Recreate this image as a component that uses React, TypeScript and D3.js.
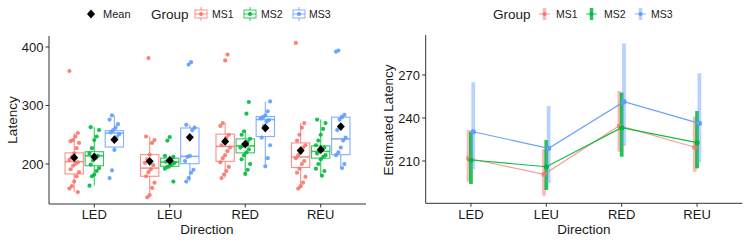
import React from "react";
import * as d3 from "d3";

const directions = ["LED", "LEU", "RED", "REU"];
const groups = ["MS1", "MS2", "MS3"];
const colors = ["#F8766D", "#00BA38", "#619CFF"];

// Left panel: raw latency points per direction (LED, LEU, RED, REU)
const ms1Points = [
  [359, 253, 247, 241, 239, 236, 227, 218, 212, 207, 203, 200, 197, 191, 186, 179, 170, 162, 158, 152],
  [381, 247, 241, 236, 216, 208, 202, 198, 191, 186, 179, 168, 159, 147, 143],
  [387, 377, 270, 265, 250, 245, 238, 232, 228, 222, 215, 210, 203, 195, 188, 182, 176],
  [407, 270, 262, 250, 240, 232, 228, 220, 215, 210, 205, 200, 192, 185, 178, 168, 162, 158],
];
const ms2Points = [
  [263, 258, 247, 241, 227, 218, 214, 210, 206, 199, 193, 188, 182, 179, 163],
  [246, 240, 214, 212, 209, 206, 204, 202, 200, 197, 195, 192, 170],
  [306, 286, 256, 250, 243, 238, 234, 231, 228, 225, 220, 215, 208, 200, 190, 183],
  [276, 270, 260, 250, 240, 232, 228, 225, 222, 218, 215, 212, 208, 200, 192, 188, 180],
];
const ms3Points = [
  [283, 276, 268, 262, 258, 254, 251, 246, 224, 189, 176],
  [374, 370, 267, 262, 258, 214, 212, 205, 190, 185, 176, 170],
  [307, 290, 283, 280, 278, 275, 272, 265, 245, 232, 210, 196],
  [394, 392, 284, 280, 276, 258, 245, 240, 228, 220, 215, 200, 193],
];

// Box stats: [lower whisker, Q1, median, Q3, upper whisker]
const ms1Box = [
  [151.5, 183, 204, 219, 253],
  [144.6, 179, 193, 216, 247],
  [176, 204.5, 230, 251, 270],
  [158, 194, 212, 236, 270],
];
const ms2Box = [
  [163.4, 197, 214, 221, 263],
  [192, 196, 203.4, 210, 214],
  [183.4, 219, 231, 243, 256],
  [180, 210, 221.5, 231, 276],
];
const ms3Box = [
  [223, 229, 253, 257, 283],
  [170, 200.5, 213, 261.5, 267],
  [196, 247, 276, 281, 307],
  [193, 216, 243, 280, 284],
];
const ms1Mean = [210.8, 204.5, 238.6, 223];
const ms2Mean = [212, 206, 234, 224.5];
const ms3Mean = [241.5, 245.5, 261.5, 264];

// Right panel: estimated latency with intervals
const ms1Est = [211.9, 200.7, 234.6, 219.6];
const ms1Low = [195.6, 185.8, 216.5, 202.5];
const ms1High = [231.6, 218.4, 258.8, 240.9];
const ms2Est = [210.7, 206, 233.2, 222.8];
const ms2Low = [194, 189.8, 213, 204.9];
const ms2High = [230.4, 224.7, 257.7, 244.9];
const ms3Est = [230.4, 218.9, 251.4, 236.3];
const ms3Low = [204.2, 194.4, 220.5, 209.1];
const ms3High = [264.9, 248.4, 292, 271.2];

const leftTicks = [200, 300, 400];
const rightTicks = [210, 240, 270];

const pointsByGroup = [ms1Points, ms2Points, ms3Points];
const boxByGroup = [ms1Box, ms2Box, ms3Box];
const meanByGroup = [ms1Mean, ms2Mean, ms3Mean];
const estByGroup = [ms1Est, ms2Est, ms3Est];
const lowByGroup = [ms1Low, ms2Low, ms3Low];
const highByGroup = [ms1High, ms2High, ms3High];

const FONT = "Liberation Sans, Arial, Helvetica, sans-serif";
const AX = "#333333";
const TXT = "#1a1a1a";

function diamond(cx: number, cy: number, r: number) {
  return `M${cx},${cy - r * 1.1}L${cx + r},${cy}L${cx},${cy + r * 1.1}L${cx - r},${cy}Z`;
}

export default function App() {
  const xL = d3.scalePoint<string>().domain(directions).range([49, 366]).padding(0.6);
  const yL = d3.scaleLinear().domain([131.6, 418.8]).range([204, 36]);
  const step = xL.step();
  const dodge = step * 0.266;
  const boxW = step * 0.243;

  const xR = d3.scalePoint<string>().domain(directions).range([425.7, 742.3]).padding(0.6);
  const yR = d3.scaleLinear().domain([180.5, 297.9]).range([203.3, 35]);
  const rDodge = 2.3;
  const rOpac = [0.5, 0.85, 0.45];

  return (
    <svg
      width={748}
      height={242}
      style={{ position: "absolute", left: 0, top: 0, background: "#fff" }}
      fontFamily={FONT}
    >
      {/* ===== Left panel ===== */}
      <g>
        <path d={diamond(91, 14, 4)} fill="#000" />
        <text x={103} y={18} fontSize={11} fill={TXT}>Mean</text>
        <text x={151} y={19} fontSize={13.5} fill={TXT}>Group</text>
        {groups.map((g, gi) => {
          const kx = [201, 250, 299][gi];
          const tx = [212, 261, 309][gi];
          const c = colors[gi];
          return (
            <g key={g}>
              <line x1={kx} x2={kx} y1={7} y2={10} stroke={c} strokeOpacity={0.8} />
              <line x1={kx} x2={kx} y1={18} y2={21} stroke={c} strokeOpacity={0.8} />
              <rect x={kx - 6} y={10} width={12} height={8} fill="#fff" stroke={c} strokeOpacity={0.8} />
              <line x1={kx - 6} x2={kx + 6} y1={14} y2={14} stroke={c} strokeOpacity={0.8} />
              <circle cx={kx} cy={14} r={2} fill={c} />
              <text x={tx} y={18} fontSize={10.5} fill={TXT}>{g}</text>
            </g>
          );
        })}
      </g>

      {groups.map((g, gi) =>
        directions.map((d, di) => {
          const [lo, q1, med, q3, hi] = boxByGroup[gi][di];
          const cx = xL(d)! + (gi - 1) * dodge;
          const c = colors[gi];
          return (
            <g key={`box-${g}-${d}`} stroke={c} strokeOpacity={0.8} fill="none" strokeWidth={1.1}>
              <line x1={cx} x2={cx} y1={yL(hi)} y2={yL(q3)} />
              <line x1={cx} x2={cx} y1={yL(q1)} y2={yL(lo)} />
              <rect x={cx - boxW / 2} y={yL(q3)} width={boxW} height={yL(q1) - yL(q3)} fill="#fff" fillOpacity={0} />
              <line x1={cx - boxW / 2} x2={cx + boxW / 2} y1={yL(med)} y2={yL(med)} strokeWidth={1.6} />
            </g>
          );
        })
      )}

      {groups.map((g, gi) =>
        directions.map((d, di) =>
          pointsByGroup[gi][di].map((v, i) => {
            const cx = xL(d)! + (gi - 1) * dodge + (((i * 7 + di * 3 + gi) % 9) - 4) * 1.2;
            return <circle key={`p-${g}-${d}-${i}`} cx={cx} cy={yL(v)} r={2.1} fill={colors[gi]} fillOpacity={0.9} />;
          })
        )
      )}

      {groups.map((g, gi) =>
        directions.map((d, di) => {
          const cx = xL(d)! + (gi - 1) * dodge;
          return <path key={`m-${g}-${d}`} d={diamond(cx, yL(meanByGroup[gi][di]), 4)} fill="#000" />;
        })
      )}

      <line x1={49} x2={49} y1={36} y2={204} stroke={AX} strokeWidth={1} />
      <line x1={49} x2={366} y1={204} y2={204} stroke={AX} strokeWidth={1} />
      {leftTicks.map((t) => (
        <g key={`lt-${t}`}>
          <line x1={45.5} x2={49} y1={yL(t)} y2={yL(t)} stroke={AX} />
          <text x={43.5} y={yL(t) + 4.7} textAnchor="end" fontSize={13} fill={TXT}>{t}</text>
        </g>
      ))}
      {directions.map((d) => (
        <g key={`lx-${d}`}>
          <line x1={xL(d)} x2={xL(d)} y1={204} y2={207.5} stroke={AX} />
          <text x={xL(d)} y={218.5} textAnchor="middle" fontSize={13} fill={TXT}>{d}</text>
        </g>
      ))}
      <text x={207} y={234} textAnchor="middle" fontSize={13.5} fill={TXT}>Direction</text>
      <text transform="translate(17,120) rotate(-90)" textAnchor="middle" fontSize={13.5} fill={TXT}>Latency</text>

      {/* ===== Right panel ===== */}
      <g>
        <text x={493} y={19} fontSize={13.5} fill={TXT}>Group</text>
        {groups.map((g, gi) => {
          const kx = [544.5, 591.5, 640.5][gi];
          const tx = [556, 604, 651][gi];
          const c = colors[gi];
          return (
            <g key={`rl-${g}`}>
              <line x1={kx - 5.5} x2={kx + 5.5} y1={14} y2={14} stroke={c} strokeOpacity={0.8} />
              <line x1={kx} x2={kx} y1={8} y2={20} stroke={c} strokeWidth={3.5} strokeOpacity={rOpac[gi]} />
              <circle cx={kx} cy={14} r={2} fill={c} />
              <text x={tx} y={18} fontSize={10.5} fill={TXT}>{g}</text>
            </g>
          );
        })}
      </g>

      {groups.map((g, gi) =>
        directions.map((d, di) => {
          const cx = xR(d)! + (gi - 1) * rDodge;
          return (
            <line
              key={`eb-${g}-${d}`}
              x1={cx}
              x2={cx}
              y1={yR(highByGroup[gi][di])}
              y2={yR(lowByGroup[gi][di])}
              stroke={colors[gi]}
              strokeWidth={3.8}
              strokeOpacity={rOpac[gi]}
            />
          );
        })
      )}
      {groups.map((g, gi) => {
        const l = d3
          .line<number>()
          .x((_, i) => xR(directions[i])! + (gi - 1) * rDodge)
          .y((v) => yR(v));
        return (
          <path
            key={`ln-${g}`}
            d={l(estByGroup[gi]) || ""}
            fill="none"
            stroke={colors[gi]}
            strokeWidth={1.2}
            strokeOpacity={gi === 0 ? 0.7 : 0.95}
          />
        );
      })}
      {groups.map((g, gi) =>
        directions.map((d, di) => (
          <circle
            key={`ep-${g}-${d}`}
            cx={xR(d)! + (gi - 1) * rDodge}
            cy={yR(estByGroup[gi][di])}
            r={2.6}
            fill={colors[gi]}
            fillOpacity={gi === 0 ? 0.75 : 1}
          />
        ))
      )}

      <line x1={425.7} x2={425.7} y1={35} y2={203.3} stroke={AX} strokeWidth={1} />
      <line x1={425.7} x2={742.3} y1={203.3} y2={203.3} stroke={AX} strokeWidth={1} />
      {rightTicks.map((t) => (
        <g key={`rt-${t}`}>
          <line x1={422.2} x2={425.7} y1={yR(t)} y2={yR(t)} stroke={AX} />
          <text x={420} y={yR(t) + 4.7} textAnchor="end" fontSize={13} fill={TXT}>{t}</text>
        </g>
      ))}
      {directions.map((d) => (
        <g key={`rx-${d}`}>
          <line x1={xR(d)} x2={xR(d)} y1={203.3} y2={206.8} stroke={AX} />
          <text x={xR(d)} y={218.5} textAnchor="middle" fontSize={13} fill={TXT}>{d}</text>
        </g>
      ))}
      <text x={584} y={234} textAnchor="middle" fontSize={13.5} fill={TXT}>Direction</text>
      <text transform="translate(393,120) rotate(-90)" textAnchor="middle" fontSize={13.5} fill={TXT}>Estimated Latency</text>
    </svg>
  );
}
